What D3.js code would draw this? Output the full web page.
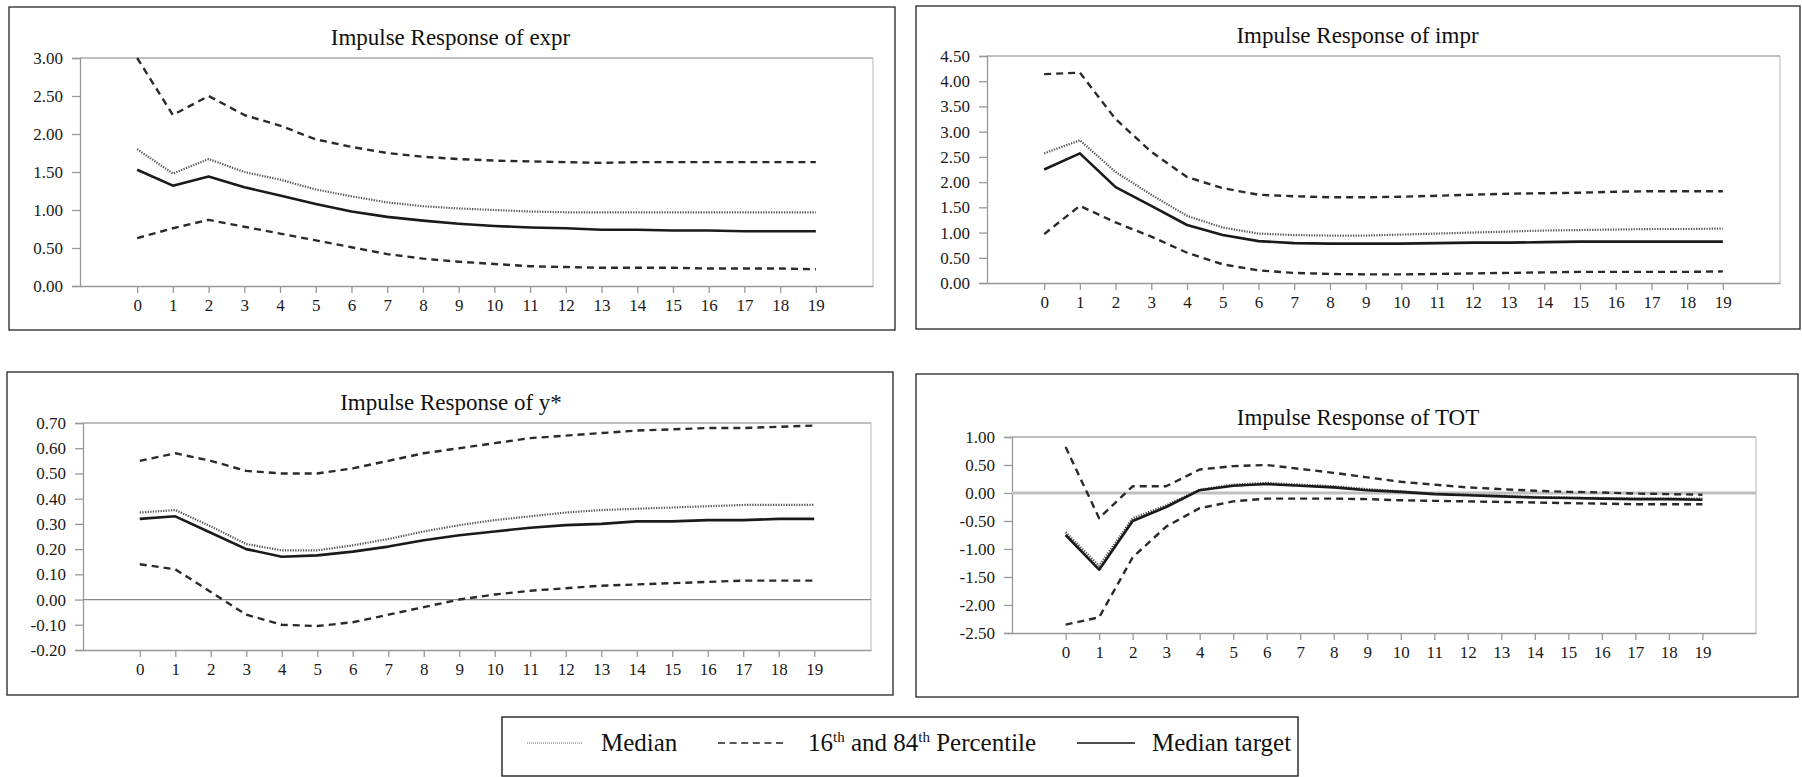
<!DOCTYPE html>
<html><head><meta charset="utf-8">
<script src="https://cdn.jsdelivr.net/npm/d3@7"></script>
<style>
html,body{margin:0;padding:0;background:#fff;}
svg{display:block;}
text{font-family:"Liberation Serif","Times New Roman",serif;}
</style></head>
<body>
<svg id="c" width="1802" height="777"></svg>
<script>
// ---------- data ----------
const periods = d3.range(0, 20);

const titles = ["Impulse Response of expr", "Impulse Response of impr", "Impulse Response of y*", "Impulse Response of TOT"];

const exprTicks = [0, 0.5, 1, 1.5, 2, 2.5, 3];
const exprUpper  = [3.00,2.25,2.50,2.25,2.11,1.93,1.83,1.75,1.70,1.67,1.65,1.64,1.63,1.62,1.63,1.63,1.63,1.63,1.63,1.63];
const exprMedian = [1.80,1.48,1.67,1.50,1.40,1.27,1.18,1.10,1.05,1.02,1.00,0.98,0.97,0.97,0.97,0.97,0.97,0.97,0.97,0.97];
const exprTarget = [1.53,1.32,1.44,1.30,1.19,1.08,0.98,0.91,0.86,0.82,0.79,0.77,0.76,0.74,0.74,0.73,0.73,0.72,0.72,0.72];
const exprLower  = [0.63,0.76,0.87,0.78,0.69,0.60,0.51,0.42,0.36,0.32,0.29,0.26,0.25,0.24,0.24,0.24,0.23,0.23,0.23,0.22];

const imprTicks = [0, 0.5, 1, 1.5, 2, 2.5, 3, 3.5, 4, 4.5];
const imprUpper  = [4.14,4.17,3.25,2.60,2.10,1.88,1.75,1.72,1.70,1.70,1.71,1.73,1.75,1.77,1.78,1.79,1.81,1.82,1.82,1.82];
const imprMedian = [2.57,2.83,2.20,1.75,1.33,1.10,0.98,0.95,0.94,0.94,0.96,0.98,1.00,1.02,1.04,1.05,1.06,1.07,1.07,1.08];
const imprTarget = [2.25,2.57,1.90,1.53,1.15,0.95,0.83,0.79,0.78,0.78,0.78,0.79,0.80,0.80,0.81,0.82,0.82,0.82,0.82,0.82];
const imprLower  = [0.97,1.53,1.20,0.92,0.60,0.37,0.25,0.20,0.18,0.17,0.17,0.18,0.19,0.20,0.21,0.22,0.22,0.22,0.22,0.23];

const ystarTicks = [-0.2, -0.1, 0, 0.1, 0.2, 0.3, 0.4, 0.5, 0.6, 0.7];
const ystarUpper  = [0.55,0.58,0.55,0.51,0.50,0.50,0.52,0.55,0.58,0.60,0.62,0.64,0.65,0.66,0.67,0.675,0.68,0.68,0.685,0.69];
const ystarMedian = [0.345,0.355,0.29,0.22,0.195,0.195,0.215,0.24,0.27,0.295,0.315,0.33,0.345,0.355,0.36,0.365,0.37,0.375,0.375,0.375];
const ystarTarget = [0.32,0.33,0.265,0.20,0.17,0.175,0.19,0.21,0.235,0.255,0.27,0.285,0.295,0.30,0.31,0.31,0.315,0.315,0.32,0.32];
const ystarLower  = [0.14,0.12,0.03,-0.06,-0.10,-0.105,-0.09,-0.06,-0.03,0.00,0.02,0.035,0.045,0.055,0.06,0.065,0.07,0.075,0.075,0.075];

const totTicks = [-2.5, -2, -1.5, -1, -0.5, 0, 0.5, 1];
const totUpper  = [0.82,-0.45,0.12,0.12,0.42,0.48,0.50,0.43,0.36,0.28,0.20,0.15,0.10,0.07,0.04,0.02,0.01,-0.01,-0.02,-0.03];
const totMedian = [-0.70,-1.30,-0.45,-0.22,0.06,0.15,0.18,0.15,0.12,0.07,0.03,-0.01,-0.03,-0.05,-0.07,-0.08,-0.09,-0.10,-0.10,-0.10];
const totTarget = [-0.75,-1.37,-0.50,-0.25,0.05,0.13,0.16,0.13,0.10,0.05,0.02,-0.02,-0.04,-0.06,-0.08,-0.09,-0.10,-0.11,-0.11,-0.12];
const totLower  = [-2.35,-2.22,-1.15,-0.60,-0.27,-0.15,-0.10,-0.10,-0.10,-0.11,-0.13,-0.14,-0.15,-0.16,-0.17,-0.18,-0.19,-0.20,-0.20,-0.20];

const legendLabels = ["Median", "16th and 84th Percentile", "Median target"];

// ---------- layout ----------
const panels = [
  {frame:[9,7,895,330],   plot:[80,58,873,286],   title:titles[0], ticks:exprTicks,  zero:null,
   series:{upper:exprUpper, lower:exprLower, median:exprMedian, target:exprTarget}, titleY:45},
  {frame:[916,6,1800,329], plot:[987,56,1780,283], title:titles[1], ticks:imprTicks,  zero:null,
   series:{upper:imprUpper, lower:imprLower, median:imprMedian, target:imprTarget}, titleY:43},
  {frame:[7,372,893,695],  plot:[83,423,871,650], title:titles[2], ticks:ystarTicks, zero:"dark",
   series:{upper:ystarUpper, lower:ystarLower, median:ystarMedian, target:ystarTarget}, titleY:410},
  {frame:[916,374,1798,697], plot:[1012,437,1756,633], title:titles[3], ticks:totTicks, zero:"light",
   series:{upper:totUpper, lower:totLower, median:totMedian, target:totTarget}, titleY:425}
];

const svg = d3.select("#c");
const fmt = d => (Math.abs(d) < 1e-9 ? "0.00" : d.toFixed(2));

const styles = {
  upper:  {stroke:"#2a2a2a", width:2.4, dash:"7,5"},
  lower:  {stroke:"#2a2a2a", width:2.4, dash:"7,5"},
  median: {stroke:"#555", width:2.2, dash:"1.3,1.3"},
  target: {stroke:"#1a1a1a", width:2.6, dash:null}
};

panels.forEach(p => {
  const g = svg.append("g");
  const [fx0, fy0, fx1, fy1] = p.frame;
  g.append("rect").attr("x", fx0).attr("y", fy0).attr("width", fx1 - fx0).attr("height", fy1 - fy0)
    .attr("fill", "#fff").attr("stroke", "#333").attr("stroke-width", 1.4);

  const [L, T, R, B] = p.plot;
  const x = d3.scaleLinear().domain([-1.6, 20.6]).range([L, R]);
  const y = d3.scaleLinear().domain(d3.extent(p.ticks)).range([B, T]);

  // plot border (top/right light)
  g.append("line").attr("x1", L).attr("x2", R).attr("y1", T).attr("y2", T).attr("stroke", "#a8a8a8").attr("stroke-width", 1.3);
  g.append("line").attr("x1", R).attr("x2", R).attr("y1", T).attr("y2", B).attr("stroke", "#c8c8c8").attr("stroke-width", 1.3);

  // y axis
  const ya = g.append("g").attr("transform", `translate(${L},0)`)
    .call(d3.axisLeft(y).tickValues(p.ticks).tickFormat(fmt).tickSize(8).tickPadding(9));
  ya.select(".domain").attr("stroke", "#999").attr("stroke-width", 1.3);
  ya.selectAll(".tick line").attr("stroke", "#999").attr("stroke-width", 1.3);
  ya.selectAll(".tick text").attr("font-size", 17).attr("fill", "#1a1a1a")
    .attr("font-family", '"Liberation Serif","Times New Roman",serif');

  // x axis at bottom
  const xa = g.append("g").attr("transform", `translate(0,${B})`)
    .call(d3.axisBottom(x).tickValues(periods).tickFormat(d3.format("d")).tickSize(7).tickSizeOuter(0).tickPadding(6));
  xa.select(".domain").attr("stroke", "#999").attr("stroke-width", 1.3);
  xa.selectAll(".tick line").attr("stroke", "#999").attr("stroke-width", 1.3);
  xa.selectAll(".tick text").attr("font-size", 17).attr("fill", "#1a1a1a")
    .attr("font-family", '"Liberation Serif","Times New Roman",serif');

  if (p.zero) {
    g.append("line").attr("x1", L).attr("x2", R).attr("y1", y(0)).attr("y2", y(0))
      .attr("stroke", p.zero === "light" ? "#c0c0c0" : "#888")
      .attr("stroke-width", p.zero === "light" ? 3 : 1.3);
  }

  // title
  g.append("text").attr("x", (L + R) / 2 - 26).attr("y", p.titleY).attr("text-anchor", "middle")
    .attr("font-size", 23).attr("fill", "#111").text(p.title);

  const line = d3.line().x((d, i) => x(periods[i])).y(d => y(d));
  ["upper", "lower", "median", "target"].forEach(k => {
    const st = styles[k];
    g.append("path").datum(p.series[k]).attr("d", line).attr("fill", "none")
      .attr("stroke", st.stroke).attr("stroke-width", st.width)
      .attr("stroke-dasharray", st.dash).attr("stroke-linejoin", "round");
  });
});

// ---------- legend ----------
const lg = svg.append("g");
lg.append("rect").attr("x", 502).attr("y", 717).attr("width", 796).attr("height", 59)
  .attr("fill", "#fff").attr("stroke", "#222").attr("stroke-width", 1.4);
const ly = 743;
lg.append("line").attr("x1", 527).attr("x2", 583).attr("y1", ly).attr("y2", ly)
  .attr("stroke", "#666").attr("stroke-width", 1.2).attr("stroke-dasharray", "1,1");
lg.append("text").attr("x", 601).attr("y", ly + 8).attr("font-size", 25).attr("fill", "#111").text(legendLabels[0]);
lg.append("line").attr("x1", 718).attr("x2", 783).attr("y1", ly).attr("y2", ly)
  .attr("stroke", "#222").attr("stroke-width", 1.4).attr("stroke-dasharray", "7,4.6");
const t2 = lg.append("text").attr("x", 808).attr("y", ly + 8).attr("font-size", 25).attr("fill", "#111");
t2.append("tspan").text("16");
t2.append("tspan").attr("dy", -9).attr("font-size", 15).text("th");
t2.append("tspan").attr("dy", 9).text(" and 84");
t2.append("tspan").attr("dy", -9).attr("font-size", 15).text("th");
t2.append("tspan").attr("dy", 9).text(" Percentile");
lg.append("line").attr("x1", 1077).attr("x2", 1135).attr("y1", ly).attr("y2", ly)
  .attr("stroke", "#111").attr("stroke-width", 1.6);
lg.append("text").attr("x", 1152).attr("y", ly + 8).attr("font-size", 25).attr("fill", "#111").text(legendLabels[2]);
</script>
</body></html>
